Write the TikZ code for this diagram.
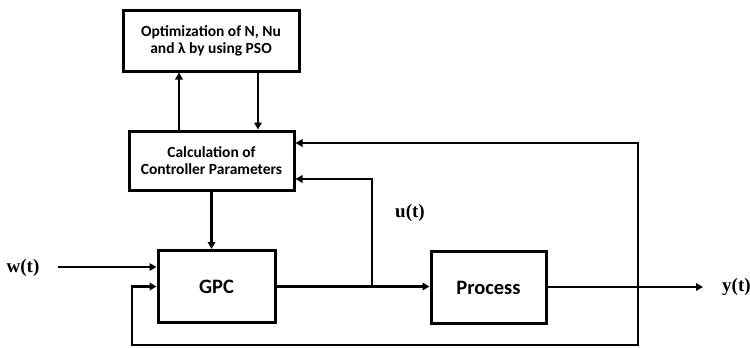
\documentclass[tikz,border=0pt]{standalone}
\usepackage{fontspec}
\setmainfont{Carlito}
\newfontfamily\sigfont{Liberation Serif}
\usetikzlibrary{arrows.meta, positioning, calc}
\tikzset{
  >={Triangle[length=7pt, width=7.5pt]},
  %
  block/.style={draw, line width=3pt, align=center, inner sep=2pt,
                font=\bfseries\fontsize{15.5}{17}\selectfont},
  bigblock/.style={block, font=\bfseries\fontsize{20.5}{22}\selectfont},
  %
  sig/.style={line width=2.8pt, ->},
  sigl/.style={font=\sigfont\bfseries\fontsize{19}{21}\selectfont, inner sep=1pt},
}
\begin{document}
\begin{tikzpicture}[x=1pt, y=-1pt]

  \useasboundingbox (0,0) rectangle (750,348);

  % blocks
  \node[block, minimum width=176pt, minimum height=61pt] (opt) at (211,40.5)
    {Optimization of N, Nu\\and λ by using PSO};
  \node[block, minimum width=165pt, minimum height=59pt] (calc) at (211.5,160.5)
    {Calculation of\\Controller Parameters};
  \node[bigblock, minimum width=117pt, minimum height=72pt] (gpc) at (216.5,286.5)
    {GPC};
  \node[bigblock, minimum width=115pt, minimum height=72pt] (proc) at (488.5,287.5)
    {Process};

  % signal labels
  \node[sigl] (w) at (23,268) {w(t)};
  \node[sigl] (u) at (410,213) {u(t)};
  \node[sigl, anchor=west] (y) at (721,287) {y(t)};

  \coordinate (win) at (58,267);
  \coordinate (br)  at (372,287);
  \coordinate (fb)  at (638,287);
  \coordinate (yout) at (703,287);
  \coordinate (lowl) at (132,345);

  % optimisation loop
  \draw[sig] (calc.north -| 179,0) -- (opt.south -| 179,0);
  \draw[sig] (opt.south -| 258,0) -- (calc.north -| 258,0);
  \draw[sig] (calc.south) -- (calc.south |- gpc.north);

  % main loop
  \draw[sig] (win) -- (win -| gpc.west);
  \draw[sig] (gpc.east) -- (proc.west |- gpc.east);
  \draw[sig] (br) |- (calc.east |- 0,179);
  \draw[sig] (proc.east |- yout) -- (yout);
  \draw[sig] (fb) |- (calc.east |- 0,143);
  \draw[sig] (fb) |- (lowl) |- (gpc.west);

\end{tikzpicture}
\end{document}
